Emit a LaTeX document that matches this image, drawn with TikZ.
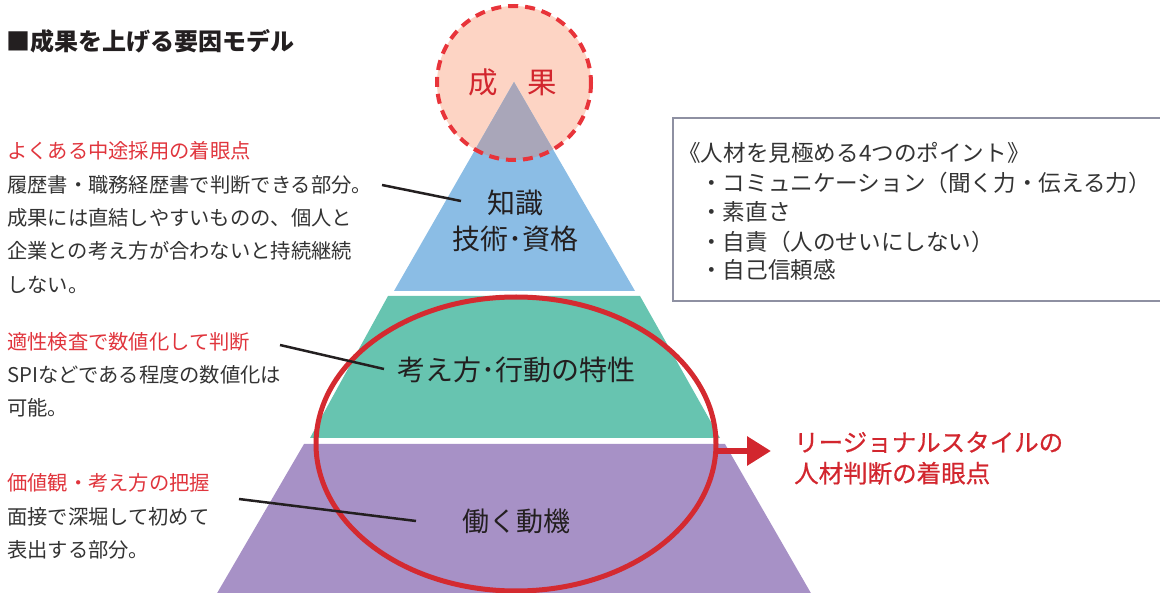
\documentclass[tikz,border=0pt]{standalone}
\usepackage{fontspec}
\setmainfont{Noto Sans CJK JP}
\newfontfamily\redfont{Noto Sans CJK JP}[FakeBold=0.6]
\usetikzlibrary{arrows.meta}
\definecolor{darktxt}{HTML}{231F20}
\definecolor{bodytxt}{HTML}{333333}
\definecolor{redtxt}{HTML}{E0353D}
\definecolor{redbig}{HTML}{D2262E}
\definecolor{circfill}{HTML}{FDD4C4}
\definecolor{circline}{HTML}{E8343A}
\definecolor{grayov}{HTML}{A9A6B9}
\definecolor{blueL}{HTML}{8BBDE5}
\definecolor{greenL}{HTML}{67C4B0}
\definecolor{purpleL}{HTML}{A791C6}
\definecolor{ellred}{HTML}{D42A30}
\definecolor{boxline}{HTML}{8E90A2}
\tikzset{
  body/.style={anchor=base west, inner sep=0, text=bodytxt, font=\fontsize{20.3}{20.3}\selectfont},
  redline/.style={body, text=redtxt},
  boxtxt/.style={anchor=base west, inner sep=0, text=bodytxt, font=\fontsize{22.6}{22.6}\selectfont},
  pyrlabel/.style={anchor=base, inner sep=0, text=darktxt, font=\fontsize{28}{28}\selectfont},
  pointer/.style={draw=darktxt, line width=2.5pt},
  bigred/.style={anchor=base west, inner sep=0, text=redbig, font=\fontsize{24.5}{24.5}\redfont},
}
\begin{document}
\begin{tikzpicture}[x=1pt,y=-1pt]
\useasboundingbox (0,0) rectangle (1160,593);
% top circle
\fill[circfill] (514,83) circle (77);
\fill[blueL] (514,82) -- (394,291) -- (635,291) -- cycle;
\begin{scope}
  \clip (514,83) circle (77);
  \fill[grayov] (514,82) -- (394,291) -- (635,291) -- cycle;
\end{scope}
\draw[circline, line width=4pt, dash pattern=on 10pt off 7pt] (514,83) circle (77);
% layers
\fill[greenL] (388,296) -- (640,296) -- (720,438) -- (310,438) -- cycle;
\fill[purpleL] (304,444) -- (725,444) -- (812,595) -- (216,595) -- cycle;
% ellipse
\draw[ellred, line width=5pt] (516,444) ellipse (200 and 147);
% arrow
\coordinate (arrS) at (714,451);
\coordinate (arrE) at (771,451);
\draw[redbig, line width=6.5pt, -{Triangle[length=24pt,width=28pt]}] (arrS) -- (arrE);
% box
\draw[boxline, line width=2.5pt] (1165,118) -- (673,118) -- (673,301) -- (1165,301);
% texts in circle and pyramid
\node[anchor=base, inner sep=0, text=redbig, font=\fontsize{29.5}{29.5}\selectfont] (seika) at (513,93.7) {成　果};
\node[pyrlabel] (chishiki) at (515,213.6) {知識};
\node[pyrlabel] (gijutsu) at (515,249.6) {技術･資格};
\node[pyrlabel] (kangae) at (516,380.6) {考え方･行動の特性};
\node[pyrlabel, font=\fontsize{27}{27}\selectfont] (doki) at (516,531) {働く動機};
% title
\node[anchor=base west, inner sep=0, text=darktxt, font=\fontsize{24}{24}\selectfont\bfseries] (title) at (6,51) {■成果を上げる要因モデル};
% block 1
\node[redline] (b1a) at (7,158.6) {よくある中途採用の着眼点};
\node[body] (b1b) at (7,192.6) {履歴書・職務経歴書で判断できる部分。};
\node[body] (b1c) at (7,225.6) {成果には直結しやすいものの、個人と};
\node[body] (b1d) at (7,258.6) {企業との考え方が合わないと持続継続};
\node[body] (b1e) at (7,292.6) {しない。};
% block 2
\node[redline] (b2a) at (7,349.6) {適性検査で数値化して判断};
\node[body] (b2b) at (7,382.6) {SPIなどである程度の数値化は};
\node[body] (b2c) at (7,415.6) {可能。};
% block 3
\node[redline] (b3a) at (7,490.6) {価値観・考え方の把握};
\node[body] (b3b) at (7,524.6) {面接で深堀して初めて};
\node[body] (b3c) at (7,557.6) {表出する部分。};
% box text
\node[boxtxt] (pt0) at (678,161.5) {《人材を見極める4つのポイント》};
\node[boxtxt] (pt1) at (700,191.5) {・コミュニケーション（聞く力・伝える力）};
\node[boxtxt] (pt2) at (700,221) {・素直さ};
\node[boxtxt] (pt3) at (700,250.5) {・自責（人のせいにしない）};
\node[boxtxt] (pt4) at (700,278.5) {・自己信頼感};
% right red text
\node[bigred] (reg1) at (794,451.5) {リージョナルスタイルの};
\node[bigred] (reg2) at (794,482.5) {人材判断の着眼点};
% pointer lines
\coordinate (p1s) at (382,185); \coordinate (p1e) at (461,201);
\coordinate (p2s) at (280,345); \coordinate (p2e) at (384,369);
\coordinate (p3s) at (239,499); \coordinate (p3e) at (416,521);
\draw[pointer] (p1s) -- (p1e);
\draw[pointer] (p2s) -- (p2e);
\draw[pointer] (p3s) -- (p3e);
\end{tikzpicture}
\end{document}
